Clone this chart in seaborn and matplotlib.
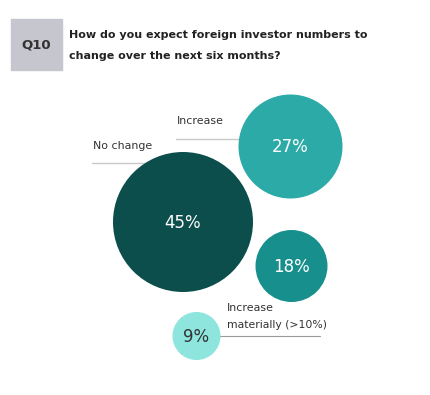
import matplotlib
matplotlib.use("Agg")
import matplotlib.pyplot as plt
import seaborn as sns
import pandas as pd
from matplotlib.patches import Rectangle

# --- data ---
categories = ["No change", "Increase", "Increase materially (>10%)", "Decrease"]
values = [45, 27, 9, 18]
value_labels = ["45%", "27%", "9%", "18%"]
colors = ["#0b4e4b", "#2caaa7", "#8de5de", "#178f8c"]
text_colors = ["#ffffff", "#ffffff", "#333333", "#ffffff"]

# --- layout (pixel coords of the 431x395 canvas) ---
centers_x = [183, 290.5, 196.5, 291.5]
centers_y = [222, 146.5, 336, 266]
radii_px = [70, 52, 24, 36]

DPI = 100
sns.set_theme(style="white")
plt.rcParams["font.family"] = ["DejaVu Sans"]

fig = plt.figure(figsize=(431 / DPI, 395 / DPI), dpi=DPI)
ax = fig.add_axes([0, 0, 1, 1])
ax.set_xlim(0, 431)
ax.set_ylim(395, 0)
ax.axis("off")

# leader lines (drawn under circles)
line_col = "#c9c9c9"
ax.plot([92, 165], [162.5, 162.5], color=line_col, lw=1, zorder=1)
ax.plot([176, 250], [138.5, 138.5], color=line_col, lw=1, zorder=1)
ax.plot([210, 320], [335.5, 335.5], color="#9a9a9a", lw=0.8, zorder=1)

df = pd.DataFrame({
    "cat": categories,
    "value": values,
    "x": centers_x,
    "y": centers_y,
    "s": [(2 * r * 72 / DPI) ** 2 for r in radii_px],
})
sns.scatterplot(
    data=df, x="x", y="y", hue="cat", size="cat",
    sizes=dict(zip(df["cat"], df["s"])),
    palette=dict(zip(categories, colors)),
    linewidth=0, legend=False, ax=ax, zorder=2,
)
ax.set_xlim(0, 431)
ax.set_ylim(395, 0)

for cx, cy, lab, tc in zip(centers_x, centers_y, value_labels, text_colors):
    ax.text(cx, cy + 1, lab, ha="center", va="center", fontsize=12,
            color=tc, zorder=3)

# category labels
lab_col = "#333333"
ax.text(93, 146, "No change", fontsize=7.9, color=lab_col, va="center")
ax.text(177, 121, "Increase", fontsize=7.9, color=lab_col, va="center")
ax.text(227, 308, "Increase", fontsize=7.9, color=lab_col, va="center")
ax.text(227, 325, "materially (>10%)", fontsize=7.8, color=lab_col, va="center")

# question header
ax.add_patch(Rectangle((11, 19), 51, 51, color="#c6c6ce", zorder=1))
ax.text(36.5, 45.5, "Q10", ha="center", va="center", fontsize=9.5,
        fontweight="bold", color="#333333")
ax.text(69, 35, "How do you expect foreign investor numbers to",
        fontsize=8.0, fontweight="bold", color="#222222", va="center")
ax.text(69, 56, "change over the next six months?",
        fontsize=8.0, fontweight="bold", color="#222222", va="center")

fig.savefig("out.png", dpi=DPI)
